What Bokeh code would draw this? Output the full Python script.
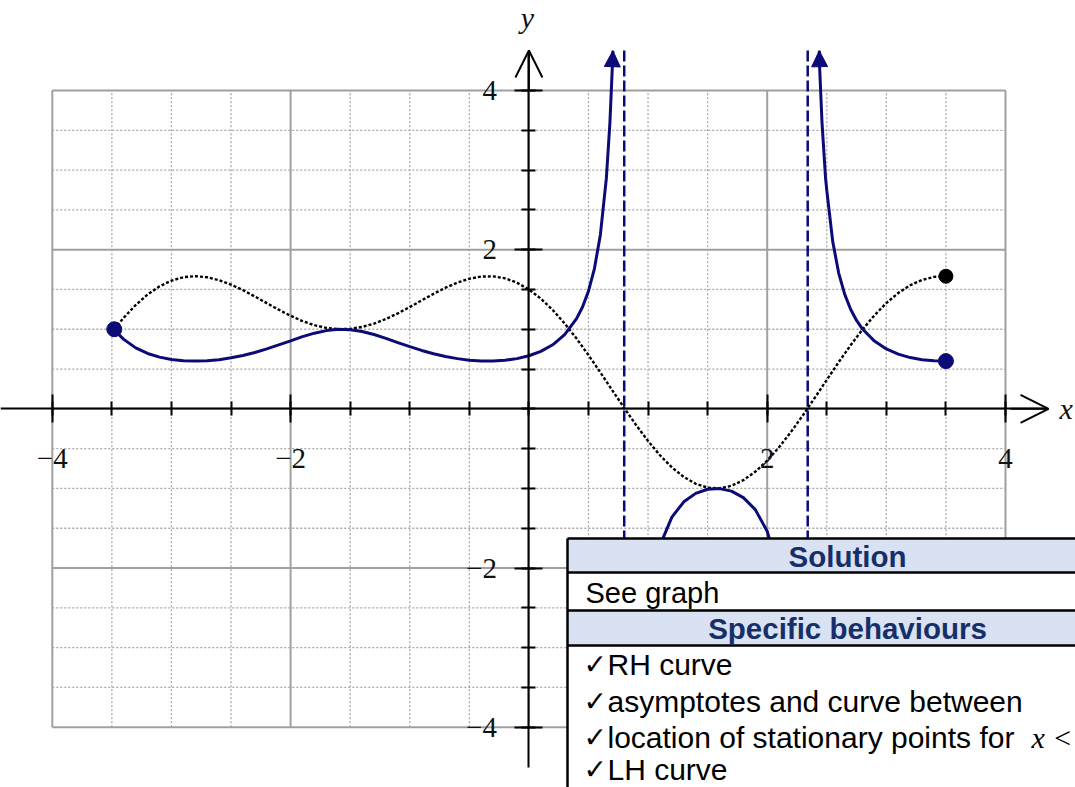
from bokeh.plotting import figure
from bokeh.models import Range1d, FixedTicker, Arrow, NormalHead, OpenHead
from bokeh.core.properties import value
from bokeh.embed import file_html
from bokeh.resources import INLINE

# ---------------- data ----------------
# dotted curve  y = f(x)
f_x = [-3.48, -3.45, -3.4, -3.3, -3.2, -3.1, -3.0, -2.9, -2.8, -2.7, -2.6, -2.5, -2.4,
       -2.3, -2.2, -2.1, -2.0, -1.9, -1.8, -1.7, -1.6, -1.5, -1.4, -1.3, -1.2, -1.1,
       -1.0, -0.9, -0.8, -0.7, -0.6, -0.5, -0.4, -0.3, -0.2, -0.1, 0.0, 0.1, 0.2, 0.3,
       0.4, 0.5, 0.6, 0.7, 0.8, 0.9, 1.0, 1.1, 1.2, 1.3, 1.4, 1.5, 1.6, 1.7, 1.8, 1.9,
       2.0, 2.1, 2.2, 2.3, 2.4, 2.5, 2.6, 2.7, 2.8, 2.9, 3.0, 3.1, 3.2, 3.3, 3.4, 3.5]
f_y = [1.00, 1.058, 1.146, 1.305, 1.437, 1.539, 1.611, 1.654, 1.667, 1.653, 1.617, 1.561, 1.491,
       1.412, 1.328, 1.246, 1.169, 1.103, 1.051, 1.017, 1.001, 1.005, 1.029, 1.071, 1.129, 1.200,
       1.279, 1.363, 1.445, 1.522, 1.586, 1.635, 1.662, 1.665, 1.640, 1.585, 1.500, 1.385, 1.242, 1.073,
       0.883, 0.676, 0.457, 0.233, 0.011, -0.204, -0.404, -0.583, -0.735, -0.856, -0.942, -0.990, -0.998, -0.967, -0.896, -0.790,
       -0.650, -0.481, -0.289, -0.080, 0.140, 0.364, 0.586, 0.799, 0.997, 1.175, 1.329, 1.456, 1.553, 1.620, 1.658, 1.666]

# solid curve y = 1/f(x): left branch
left_x = [-3.48, -3.45, -3.4, -3.3, -3.2, -3.1, -3.0, -2.9, -2.8, -2.7, -2.6, -2.5, -2.4,
          -2.3, -2.2, -2.1, -2.0, -1.9, -1.8, -1.7, -1.6, -1.5, -1.4, -1.3, -1.2, -1.1,
          -1.0, -0.9, -0.8, -0.7, -0.6, -0.5, -0.4, -0.3, -0.2, -0.1, 0.0, 0.1, 0.2, 0.3,
          0.4, 0.45, 0.5, 0.55, 0.6, 0.65, 0.68, 0.70, 0.705]
left_y = [1.00, 0.945, 0.873, 0.766, 0.696, 0.650, 0.621, 0.605, 0.600, 0.605, 0.618, 0.641, 0.671,
          0.708, 0.753, 0.803, 0.855, 0.907, 0.951, 0.983, 0.999, 0.995, 0.972, 0.934, 0.886, 0.833,
          0.782, 0.734, 0.692, 0.657, 0.631, 0.612, 0.602, 0.601, 0.610, 0.631, 0.667, 0.722, 0.805, 0.932,
          1.133, 1.280, 1.479, 1.762, 2.188, 2.895, 3.596, 4.29, 4.50]

# middle branch (between the asymptotes)
mid_x = [0.9, 0.95, 1.0, 1.05, 1.1, 1.2, 1.3, 1.4, 1.5, 1.6, 1.7, 1.8, 1.9, 2.0, 2.1, 2.15, 2.2, 2.25]
mid_y = [-4.90, -3.269, -2.475, -2.016, -1.715, -1.361, -1.168, -1.062, -1.010, -1.002, -1.034,
         -1.116, -1.266, -1.538, -2.079, -2.581, -3.460, -5.37]

# right branch
right_x = [2.437, 2.44, 2.46, 2.49, 2.5, 2.55, 2.6, 2.65, 2.7, 2.75, 2.8, 2.9, 3.0, 3.1, 3.2, 3.3, 3.4, 3.5]
right_y = [4.50, 4.29, 3.596, 2.895, 2.747, 2.102, 1.706, 1.441, 1.252, 1.111, 1.003, 0.851, 0.752,
           0.687, 0.644, 0.617, 0.603, 0.600]

asymptote_x = [0.80, 2.34]
recip_end_x = [-3.48, 3.5]
recip_end_y = [1.00, 0.600]
f_end_x = [3.5]
f_end_y = [1.666]

major_ticks = [-4, -2, 2, 4]
tick_labels = {-4: "\u22124", -2: "\u22122", 2: "2", 4: "4"}

table_headers = ["Solution", "Specific behaviours"]
table_answer = "See graph"
table_marks = ["RH curve", "asymptotes and curve between",
               "location of stationary points for", "LH curve"]

# ---------------- layout ----------------
W, H = 1075, 787
X0, SX = 528.4, 119.15     # canvas px of x=0, px per unit
Y0, SY = 408.35, 79.59     # canvas px of y=0, px per unit


def to_x(px):
    return (px - X0) / SX


def to_y(py):
    return (Y0 - py) / SY


NAVY = "#0b0b78"
HEAD_NAVY = "#172f69"

p = figure(width=W, height=H,
           x_range=Range1d(to_x(0), to_x(W)),
           y_range=Range1d(to_y(H), to_y(0)),
           output_backend="svg", toolbar_location=None, min_border=0)
p.outline_line_color = None
p.grid.visible = False
p.background_fill_color = "white"

# grid (every 0.5, solid every 2)
steps = [k * 0.5 for k in range(-8, 9)]
minor = [s for s in steps if s % 2 != 0]
major = [s for s in steps if s % 2 == 0]
p.segment(x0=minor, y0=[-4] * len(minor), x1=minor, y1=[4] * len(minor),
          line_color="#a8a8a8", line_width=1.3, line_dash="2 2")
p.segment(x0=[-4] * len(minor), y0=minor, x1=[4] * len(minor), y1=minor,
          line_color="#a8a8a8", line_width=1.3, line_dash="2 2")
p.segment(x0=major, y0=[-4] * len(major), x1=major, y1=[4] * len(major),
          line_color="#a0a0a0", line_width=2)
p.segment(x0=[-4] * len(major), y0=major, x1=[4] * len(major), y1=major,
          line_color="#a0a0a0", line_width=2)

# axes through the origin
xa = p.xaxis[0]
ya = p.yaxis[0]
for ax in (xa, ya):
    ax.fixed_location = 0
    ax.ticker = FixedTicker(ticks=major_ticks, minor_ticks=steps)
    ax.major_label_overrides = tick_labels
    ax.major_tick_in = 14
    ax.major_tick_out = 14
    ax.minor_tick_in = 7
    ax.minor_tick_out = 7
    ax.axis_line_width = 2
    ax.major_tick_line_width = 2
    ax.minor_tick_line_width = 2
    ax.axis_line_color = "black"
    ax.major_tick_line_color = "black"
    ax.minor_tick_line_color = "black"
    ax.major_label_text_font = "Liberation Serif"
    ax.major_label_text_font_size = "29px"
    ax.major_label_text_color = "#111111"
xa.major_label_standoff = 26
ya.major_label_standoff = 18
xa.bounds = (to_x(0), to_x(1046))
ya.bounds = (to_y(767), to_y(52))
ya.major_label_orientation = "horizontal"

p.add_layout(Arrow(end=OpenHead(size=28, line_width=2, line_color="black"),
                   x_start=to_x(1010), y_start=0, x_end=to_x(1048), y_end=0,
                   line_width=2, line_color="black"))
p.add_layout(Arrow(end=OpenHead(size=27, line_width=2, line_color="black"),
                   x_start=0, y_start=to_y(90), x_end=0, y_end=to_y(50),
                   line_width=2, line_color="black"))

p.text(x=[to_x(527)], y=[to_y(17)], text=["y"], text_font=value("Liberation Serif"),
       text_font_style="italic", text_font_size="30px", text_baseline="middle",
       text_align="center", text_color="#111111")
p.text(x=[to_x(1059)], y=[to_y(408)], text=["x"], text_font=value("Liberation Serif"),
       text_font_style="italic", text_font_size="30px", text_baseline="middle",
       text_align="left", text_color="#111111")

# asymptotes
p.segment(x0=asymptote_x, y0=[to_y(50)] * 2, x1=asymptote_x, y1=[-4.6] * 2,
          line_color=NAVY, line_width=2.5, line_dash="11 4")

# dotted f(x)
p.line(f_x, f_y, line_color="black", line_width=2.4, line_dash="3 2")

# solid 1/f(x)
for xs, ys in ((left_x, left_y), (mid_x, mid_y), (right_x, right_y)):
    p.line(xs, ys, line_color=NAVY, line_width=3)

p.add_layout(Arrow(end=NormalHead(size=16, fill_color=NAVY, line_color=NAVY, line_width=1),
                   x_start=left_x[-2], y_start=left_y[-2], x_end=left_x[-1], y_end=left_y[-1],
                   line_color=NAVY, line_width=3))
p.add_layout(Arrow(end=NormalHead(size=16, fill_color=NAVY, line_color=NAVY, line_width=1),
                   x_start=right_x[1], y_start=right_y[1], x_end=right_x[0], y_end=right_y[0],
                   line_color=NAVY, line_width=3))

p.scatter(recip_end_x, recip_end_y, size=15, color=NAVY)
p.scatter(f_end_x, f_end_y, size=14, color="black")

# ---------------- marking table ----------------
TL, TR, TB = 567, 1090, 800
row_lines = [538, 572, 610, 645]
p.quad(left=[to_x(TL)], right=[to_x(TR)], top=[to_y(538)], bottom=[to_y(TB)],
       fill_color="white", line_color=None)
p.quad(left=[to_x(TL)] * 2, right=[to_x(TR)] * 2, top=[to_y(538), to_y(610)],
       bottom=[to_y(572), to_y(645)], fill_color="#D9E2F3", line_color=None)
p.segment(x0=[to_x(TL)] * 4, y0=[to_y(v) for v in row_lines],
          x1=[to_x(TR)] * 4, y1=[to_y(v) for v in row_lines],
          line_color="black", line_width=2.5)
p.segment(x0=[to_x(TL)], y0=[to_y(538)], x1=[to_x(TL)], y1=[to_y(TB)],
          line_color="black", line_width=2.5)

p.text(x=[to_x(847)] * 2, y=[to_y(556), to_y(627.5)], text=table_headers,
       text_font=value("Liberation Sans"), text_font_style="bold", text_font_size="29.5px",
       text_align="center", text_baseline="middle", text_color=HEAD_NAVY)
p.text(x=[to_x(585)], y=[to_y(592)], text=[table_answer],
       text_font=value("Liberation Sans"), text_font_size="29px",
       text_align="left", text_baseline="middle", text_color="black")
mark_mid = [664, 700.5, 737, 769]
p.text(x=[to_x(583)] * 4, y=[to_y(b) for b in mark_mid], text=["\u2713"] * 4,
       text_font=value("DejaVu Sans"), text_font_size="28px",
       text_align="left", text_baseline="middle", text_color="black")
p.text(x=[to_x(607)] * 4, y=[to_y(b) for b in mark_mid], text=table_marks,
       text_font=value("Liberation Sans"), text_font_size="30px",
       text_align="left", text_baseline="middle", text_color="black")
p.text(x=[to_x(1031)], y=[to_y(737)], text=["x <"],
       text_font=value("Liberation Serif"), text_font_style="italic", text_font_size="30px",
       text_align="left", text_baseline="middle", text_color="black")

open("out.html", "w").write(file_html(p, INLINE))
